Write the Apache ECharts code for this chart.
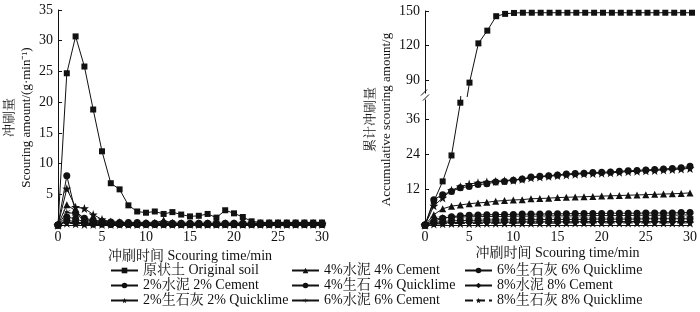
<!DOCTYPE html>
<html>
<head>
<meta charset="utf-8">
<script src="https://cdn.jsdelivr.net/npm/echarts@6/dist/echarts.min.js"></script>
<style>
html, body { margin: 0; padding: 0; background: #fff; }
#chart { width: 700px; height: 312px; }
</style>
</head>
<body>
<div id="chart"></div>
<script>
// 冲刷时间 / min
const times = [0, 1, 2, 3, 4, 5, 6, 7, 8, 9, 10, 11, 12, 13, 14, 15, 16, 17, 18, 19, 20, 21, 22, 23, 24, 25, 26, 27, 28, 29, 30];

const seriesNames = ['原状土 Original soil', '2%水泥 2% Cement', '2%生石灰 2% Quicklime',
    '4%水泥 4% Cement', '4%生石 4% Quicklime', '6%水泥 6% Cement',
    '6%生石灰 6% Quicklime', '8%水泥 8% Cement', '8%生石灰 8% Quicklime'];

// 冲刷量 g/min (left)
const rateOriginal = [0, 24.7, 30.7, 25.8, 18.8, 12.0, 6.8, 5.8, 3.2, 2.2, 2.0, 2.2, 1.8, 2.1, 1.7, 1.4, 1.5, 1.8, 1.2, 2.4, 1.9, 1.3, 0.6, 0.4, 0.4, 0.4, 0.4, 0.4, 0.4, 0.4, 0.4];
const rateCement2 = [0, 8.0, 2.0, 1.1, 0.8, 0.6, 0.5, 0.4, 0.4, 0.4, 0.3, 0.3, 0.3, 0.3, 0.3, 0.3, 0.3, 0.3, 0.3, 0.3, 0.3, 0.3, 0.3, 0.3, 0.3, 0.3, 0.3, 0.3, 0.3, 0.3, 0.3];
const rateLime2 = [0, 5.9, 2.9, 2.7, 1.7, 0.9, 0.5, 0.4, 0.3, 0.3, 0.3, 0.3, 0.3, 0.3, 0.2, 0.2, 0.2, 0.2, 0.2, 0.2, 0.2, 0.2, 0.2, 0.2, 0.2, 0.2, 0.2, 0.2, 0.2, 0.2, 0.2];
const rateCement4 = [0, 3.3, 2.3, 1.0, 0.6, 0.5, 0.4, 0.3, 0.3, 0.3, 0.3, 0.3, 0.8, 0.3, 0.2, 0.2, 0.2, 0.2, 0.2, 0.2, 0.2, 0.2, 0.2, 0.2, 0.2, 0.2, 0.2, 0.2, 0.2, 0.2, 0.2];
const rateLime4 = [0, 1.3, 1.0, 0.5, 0.4, 0.3, 0.2, 0.2, 0.2, 0.2, 0.2, 0.2, 0.2, 0.2, 0.2, 0.2, 0.2, 0.2, 0.2, 0.2, 0.2, 0.2, 0.2, 0.2, 0.2, 0.2, 0.2, 0.2, 0.2, 0.2, 0.2];
const rateCement6 = [0, 2.1, 1.8, 0.8, 0.5, 0.4, 0.3, 0.3, 0.2, 0.2, 0.2, 0.2, 0.2, 0.2, 0.2, 0.2, 0.2, 0.2, 0.2, 0.2, 0.2, 0.2, 0.2, 0.2, 0.2, 0.2, 0.2, 0.2, 0.2, 0.2, 0.2];
const rateLime6 = [0, 0.8, 0.5, 0.3, 0.2, 0.2, 0.1, 0.1, 0.1, 0.1, 0.1, 0.1, 0.1, 0.1, 0.1, 0.1, 0.1, 0.1, 0.1, 0.1, 0.1, 0.1, 0.1, 0.1, 0.1, 0.1, 0.1, 0.1, 0.1, 0.1, 0.1];
const rateCement8 = [0, 0.5, 0.3, 0.2, 0.1, 0.1, 0.1, 0.1, 0.1, 0.1, 0.1, 0.1, 0.1, 0.1, 0.1, 0.1, 0.1, 0.1, 0.1, 0.1, 0.1, 0.1, 0.1, 0.1, 0.1, 0.1, 0.1, 0.1, 0.1, 0.1, 0.1];
const rateLime8 = [0, 0.3, 0.2, 0.1, 0.1, 0.1, 0.1, 0.1, 0.1, 0.1, 0.1, 0.1, 0.1, 0.1, 0.1, 0.1, 0.1, 0.1, 0.1, 0.1, 0.1, 0.1, 0.1, 0.1, 0.1, 0.1, 0.1, 0.1, 0.1, 0.1, 0.1];

// 累计冲刷量 g (right)
const sumOriginal = [0, 8.0, 14.8, 23.6, 41.5, 88.0, 122.0, 133.0, 145.5, 147.5, 148.3, 148.5, 148.5, 148.5, 148.5, 148.5, 148.5, 148.5, 148.5, 148.5, 148.5, 148.5, 148.5, 148.5, 148.5, 148.5, 148.5, 148.5, 148.5, 148.5, 148.5];
const sumCement2 = [0, 8.6, 10.3, 11.4, 12.6, 13.1, 13.7, 14.0, 14.6, 14.8, 15.2, 15.6, 16.3, 16.5, 16.7, 17.0, 17.3, 17.5, 17.6, 17.8, 17.9, 18.0, 18.2, 18.4, 18.5, 18.7, 18.8, 19.0, 19.2, 19.4, 19.9];
const sumLime2 = [0, 6.5, 9.2, 11.8, 13.0, 13.9, 14.3, 14.6, 14.8, 15.0, 15.2, 15.5, 16.0, 16.3, 16.5, 16.8, 17.0, 17.2, 17.4, 17.5, 17.6, 17.7, 17.9, 18.1, 18.2, 18.4, 18.5, 18.7, 18.8, 19.0, 19.2];
const sumCement4 = [0, 3.5, 5.5, 6.4, 6.8, 7.2, 7.5, 7.7, 8.1, 8.3, 8.5, 8.6, 8.9, 9.0, 9.1, 9.3, 9.4, 9.5, 9.6, 9.7, 9.8, 9.9, 10.0, 10.1, 10.2, 10.3, 10.4, 10.5, 10.6, 10.7, 10.9];
const sumLime4 = [0, 1.3, 2.3, 2.8, 3.1, 3.3, 3.4, 3.5, 3.5, 3.6, 3.6, 3.7, 3.7, 3.7, 3.8, 3.8, 3.8, 3.9, 3.9, 3.9, 3.9, 4.0, 4.0, 4.0, 4.0, 4.1, 4.1, 4.1, 4.1, 4.2, 4.2];
const sumCement6 = [0, 2.1, 2.4, 2.6, 2.7, 2.8, 2.8, 2.9, 2.9, 2.9, 3.0, 3.0, 3.0, 3.0, 3.1, 3.1, 3.1, 3.1, 3.1, 3.2, 3.2, 3.2, 3.2, 3.2, 3.3, 3.3, 3.3, 3.3, 3.3, 3.4, 3.4];
const sumLime6 = [0, 0.8, 1.2, 1.4, 1.5, 1.6, 1.6, 1.7, 1.7, 1.7, 1.8, 1.8, 1.8, 1.8, 1.9, 1.9, 1.9, 1.9, 1.9, 2.0, 2.0, 2.0, 2.0, 2.0, 2.0, 2.1, 2.1, 2.1, 2.1, 2.1, 2.1];
const sumCement8 = [0, 0.5, 0.7, 0.8, 0.9, 0.9, 1.0, 1.0, 1.0, 1.0, 1.0, 1.1, 1.1, 1.1, 1.1, 1.1, 1.1, 1.1, 1.1, 1.2, 1.2, 1.2, 1.2, 1.2, 1.2, 1.2, 1.2, 1.2, 1.2, 1.2, 1.2];
const sumLime8 = [0, 0.3, 0.4, 0.5, 0.5, 0.5, 0.5, 0.6, 0.6, 0.6, 0.6, 0.6, 0.6, 0.6, 0.6, 0.6, 0.7, 0.7, 0.7, 0.7, 0.7, 0.7, 0.7, 0.7, 0.7, 0.7, 0.7, 0.7, 0.7, 0.7, 0.7];

const leftYTicks = [5, 10, 15, 20, 25, 30, 35];
const rightLowTicks = [12, 24, 36];
const rightHighTicks = [90, 120, 150];

const rates = [rateOriginal, rateCement2, rateLime2, rateCement4, rateLime4, rateCement6, rateLime6, rateCement8, rateLime8];
const sums = [sumOriginal, sumCement2, sumLime2, sumCement4, sumLime4, sumCement6, sumLime6, sumCement8, sumLime8];

const starPath = 'path://M0,-10L2.35,-3.24L9.51,-3.09L3.8,1.24L5.88,8.09L0,4L-5.88,8.09L-3.8,1.24L-9.51,-3.09L-2.35,-3.24Z';
const asteriskPath = 'path://M0,-10L1.2,-2.1L8.66,-5L2.4,0L8.66,5L1.2,2.1L0,10L-1.2,2.1L-8.66,5L-2.4,0L-8.66,-5L-1.2,-2.1Z';
const symbols = ['rect', 'circle', starPath, 'triangle', 'circle', asteriskPath, 'circle', 'diamond', starPath];
const symbolSizes = [6, 7, 9, 7, 7, 9, 7, 7, 9];
const lineTypes = ['solid', 'solid', 'solid', 'solid', 'solid', 'solid', 'solid', 'solid', 'dashed'];

const font = "'Liberation Serif', 'Noto Serif CJK SC', 'Noto Sans CJK SC', serif";
const ink = '#111';

// layout
const plotW = 267;
const leftX = 55;
const rightX = 425;
const plotTop = 10;
const axisY = 225;
const breakY = 96.5;

function pairs(arr) {
    return times.map((t, i) => [t, arr[i]]);
}

function line(idx, arr, xi, yi) {
    return {
        name: seriesNames[idx],
        type: 'line',
        xAxisIndex: xi,
        yAxisIndex: yi,
        data: pairs(arr),
        symbol: symbols[idx],
        symbolSize: symbolSizes[idx],
        clip: true,
        z: 10 - idx,
        lineStyle: { color: ink, width: 1, type: lineTypes[idx] },
        itemStyle: { color: ink },
    };
}

const axisLine = { show: true, lineStyle: { color: ink, width: 1 } };
const axisTick = { show: true, inside: true, length: 4, lineStyle: { color: ink } };
const axisLabel = { color: ink, fontFamily: font, fontSize: 14, margin: 5 };

function xAxis(gi, showAll) {
    return {
        type: 'value',
        gridIndex: gi,
        min: 0,
        max: 30,
        interval: 5,
        axisLine: showAll ? axisLine : { show: false },
        axisTick: showAll ? axisTick : { show: false },
        axisLabel: showAll ? axisLabel : { show: false },
        splitLine: { show: false },
        name: showAll ? '冲刷时间 Scouring time/min' : '',
        nameLocation: 'middle',
        nameGap: 21,
        nameTextStyle: { color: ink, fontFamily: font, fontSize: 14 },
    };
}

const series = [];
for (let i = 0; i < 9; i++) {
    series.push(line(i, rates[i], 0, 0));
    series.push(line(i, sums[i], 2, 2));
}
series.push(line(0, sumOriginal, 1, 1));

const legendBase = {
    orient: 'vertical',
    top: 263,
    itemWidth: 27,
    itemHeight: 7,
    itemGap: 0,
    padding: 0,
    selectedMode: false,
    textStyle: { color: ink, fontFamily: font, fontSize: 14, lineHeight: 15 },
};

const option = {
    animation: false,
    backgroundColor: '#fff',
    grid: [
        { left: leftX, width: plotW, top: plotTop, bottom: 312 - axisY },
        { left: rightX, width: plotW, top: 11, bottom: 312 - breakY },
        { left: rightX, width: plotW, top: breakY, bottom: 312 - axisY },
    ],
    xAxis: [xAxis(0, true), xAxis(1, false), xAxis(2, true)],
    yAxis: [
        {
            type: 'value', gridIndex: 0, min: 0, max: 35,
            axisLine: axisLine, axisTick: Object.assign({ customValues: leftYTicks }, axisTick),
            axisLabel: Object.assign({ customValues: leftYTicks }, axisLabel),
            splitLine: { show: false },
            name: '冲刷量\nScouring amount/(g·min⁻¹)',
            nameLocation: 'middle', nameRotate: 90, nameGap: 23,
            nameTextStyle: { color: ink, fontFamily: font, fontSize: 13, lineHeight: 17, align: 'center' },
        },
        {
            type: 'value', gridIndex: 1, min: 76, max: 150,
            axisLine: axisLine, axisTick: Object.assign({ customValues: rightHighTicks }, axisTick),
            axisLabel: Object.assign({ customValues: rightHighTicks }, axisLabel),
            splitLine: { show: false },
        },
        {
            type: 'value', gridIndex: 2, min: 0, max: 43.6,
            axisLine: axisLine, axisTick: Object.assign({ customValues: rightLowTicks }, axisTick),
            axisLabel: Object.assign({ customValues: rightLowTicks }, axisLabel),
            splitLine: { show: false },
        },
    ],
    legend: [
        Object.assign({ left: 110, data: seriesNames.slice(0, 3) }, legendBase),
        Object.assign({ left: 291, data: seriesNames.slice(3, 6) }, legendBase),
        Object.assign({ left: 464, data: seriesNames.slice(6, 9) }, legendBase),
    ],
    graphic: [
        // axis break mark
        { type: 'rect', shape: { x: rightX - 3, y: breakY - 3, width: 6, height: 6 }, style: { fill: '#fff' }, z: 100 },
        { type: 'line', shape: { x1: rightX - 4, y1: breakY - 1, x2: rightX + 2, y2: breakY - 7 }, style: { stroke: ink, lineWidth: 1 }, z: 101 },
        { type: 'line', shape: { x1: rightX - 2, y1: breakY + 4, x2: rightX + 4, y2: breakY - 2 }, style: { stroke: ink, lineWidth: 1 }, z: 101 },
        {
            type: 'text', x: 379, y: (plotTop + axisY) / 2 + 2, rotation: Math.PI / 2,
            style: {
                text: '累计冲刷量\nAccumulative scouring amount/g',
                fill: ink, font: '13px ' + font, align: 'center', verticalAlign: 'middle', lineHeight: 16,
            },
        },
    ],
    series: series,
};

const chart = echarts.init(document.getElementById('chart'), null, { renderer: 'canvas' });
chart.setOption(option);
</script>
</body>
</html>
